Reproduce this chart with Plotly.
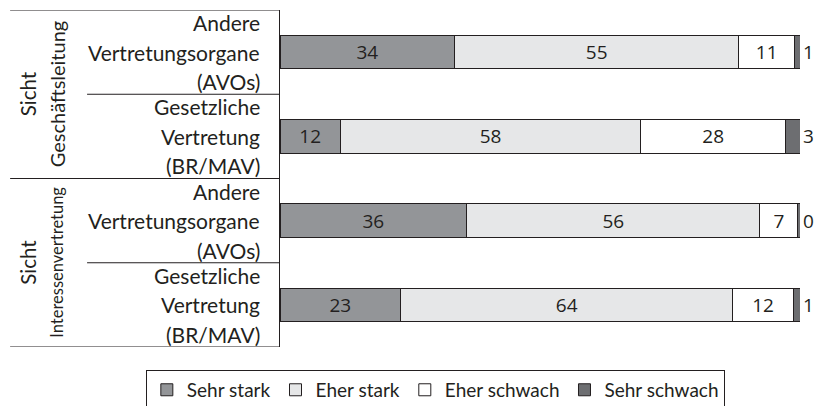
import plotly.graph_objects as go

# ---- data ----
categories = ["GL_AVO", "GL_BR", "IV_AVO", "IV_BR"]
row_labels = [
    ["Andere", "Vertretungsorgane", "(AVOs)"],
    ["Gesetzliche", "Vertretung", "(BR/MAV)"],
    ["Andere", "Vertretungsorgane", "(AVOs)"],
    ["Gesetzliche", "Vertretung", "(BR/MAV)"],
]
group_labels = [["Sicht", "Geschäftsleitung"], ["Sicht", "Interessenvertretung"]]
series_names = ["Sehr stark", "Eher stark", "Eher schwach", "Sehr schwach"]
sehr_stark = [33.6, 11.6, 35.9, 23.2]
eher_stark = [54.6, 57.8, 56.4, 63.9]
eher_schwach = [10.8, 27.8, 7.3, 11.6]
sehr_schwach = [1.0, 2.8, 0.4, 1.3]
series_values = [sehr_stark, eher_stark, eher_schwach, sehr_schwach]
colors = ["#939598", "#e6e7e8", "#ffffff", "#6d6e71"]

INK = "#231f20"
LABEL_FONT = "Lato"
NUM_FONT = "Open Sans"

fig = go.Figure()
for i, (name, vals, col) in enumerate(zip(series_names, series_values, colors)):
    last = i == len(series_names) - 1
    fig.add_trace(go.Bar(
        name=name, y=categories, x=vals, orientation="h",
        marker=dict(color=col, line=dict(color=INK, width=1)),
        texttemplate="%{x:.0f}",
        textposition="outside" if last else "inside",
        insidetextanchor="middle",
        constraintext="none",
        textfont=dict(family=NUM_FONT, size=19, color=INK),
        cliponaxis=False,
        hoverinfo="skip",
    ))

annotations = []
for ci, (cat, lines) in enumerate(zip(categories, row_labels)):
    for li, txt in enumerate(lines):
        annotations.append(dict(
            x=-0.036, xref="paper", y=cat, yref="y", text=txt, showarrow=False,
            xanchor="right", yanchor="middle", yshift=(1 - li) * 29.5,
            borderpad=0,
            font=dict(family=LABEL_FONT, size=21, color=INK)))

group_pos = [0.5, 2.5]
for gi, (g, yc) in enumerate(zip(group_labels, group_pos)):
    annotations.append(dict(
        x=-0.4846, xref="paper", y=yc, yref="y", text=g[0], showarrow=False,
        textangle=-90, xanchor="center", yanchor="middle", borderpad=0,
        font=dict(family=LABEL_FONT, size=20.5, color=INK)))
    annotations.append(dict(
        x=-0.4288, xref="paper", y=yc, yref="y", text=g[1], showarrow=False,
        textangle=-90, xanchor="center", yanchor="middle", borderpad=0,
        font=dict(family=LABEL_FONT, size=20 if gi == 0 else 16.5, color=INK)))

shapes = []
for yb, x0 in [(-0.5, -0.519), (0.5, -0.371), (1.5, -0.519), (2.5, -0.371), (3.5, -0.519)]:
    shapes.append(dict(type="line", xref="paper", yref="y", x0=x0, x1=0, y0=yb, y1=yb,
                       line=dict(color=INK, width=1)))

fig.update_layout(
    width=817, height=406,
    margin=dict(l=280, r=17, t=10, b=59, autoexpand=False),
    barmode="stack", bargap=0.6,
    plot_bgcolor="white", paper_bgcolor="white",
    xaxis=dict(range=[0, 100], visible=False, showgrid=False, zeroline=False),
    yaxis=dict(categoryorder="array", categoryarray=categories, range=[3.5, -0.5],
               showticklabels=False, showgrid=False, zeroline=False,
               showline=True, linecolor=INK, linewidth=1, ticks=""),
    showlegend=True,
    legend=dict(orientation="h", x=-0.258, xanchor="left", y=-0.068, yanchor="top",
                bordercolor=INK, borderwidth=1, bgcolor="white",
                font=dict(family=LABEL_FONT, size=19, color=INK),
                traceorder="normal", itemclick=False),
    annotations=annotations, shapes=shapes,
)
fig.write_html("out.html", config={"displayModeBar": False},
               post_script="document.body.style.margin='0';document.body.style.overflow='hidden';")
